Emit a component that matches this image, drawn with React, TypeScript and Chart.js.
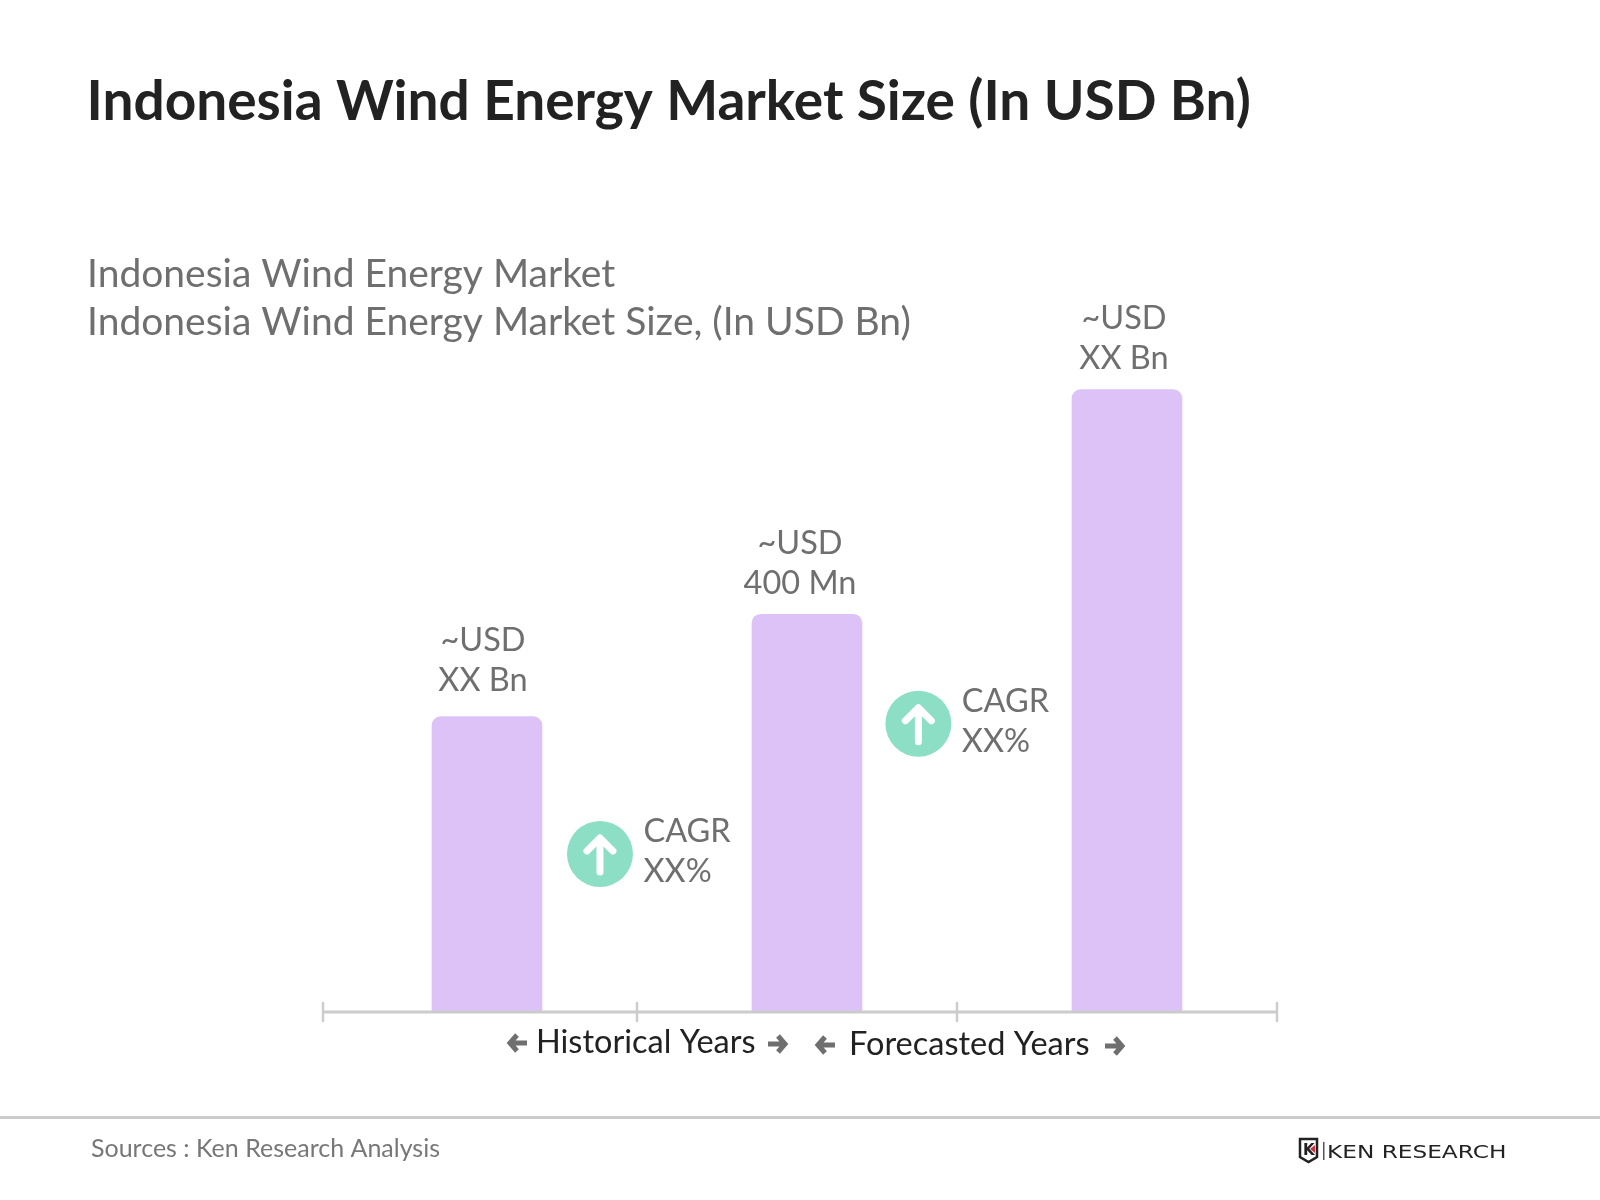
import { useEffect, useRef } from "react";
import { Chart, registerables } from "chart.js";

Chart.register(...registerables);

const categories = ["Historical start", "Base year", "Forecast end"];
const marketSize = [297, 400, 626];
const barLabels = [
  ["~USD", "XX Bn"],
  ["~USD", "400 Mn"],
  ["~USD", "XX Bn"],
];
const barLabelShift = [-4, -7, -3];
const barLabelLift = [26, 20, 21];
const cagrLabels = [
  ["CAGR", "XX%"],
  ["CAGR", "XX%"],
];
// badge position: category index for x, market size units for y
const cagrX = [0.353, 1.348];
const cagrY = [159, 290];

const GREY = "#6f6f6f";
const DARK = "#222222";
const RULE = "#cccccc";

function arrow(ctx: CanvasRenderingContext2D, x: number, y: number, dir: number) {
  ctx.save();
  ctx.strokeStyle = GREY;
  ctx.lineWidth = 5;
  ctx.lineCap = "butt";
  ctx.lineJoin = "miter";
  ctx.beginPath();
  ctx.moveTo(x - dir * 9, y);
  ctx.lineTo(x + dir * 8, y);
  ctx.moveTo(x + dir * 1, y - 8);
  ctx.lineTo(x + dir * 8, y);
  ctx.lineTo(x + dir * 1, y + 8);
  ctx.stroke();
  ctx.restore();
}

function text(
  ctx: CanvasRenderingContext2D,
  str: string,
  x: number,
  y: number,
  font: string,
  color: string,
  align: CanvasTextAlign = "left"
) {
  ctx.font = font;
  ctx.fillStyle = color;
  ctx.textAlign = align;
  ctx.textBaseline = "alphabetic";
  ctx.fillText(str, x, y);
}

const axisRule = {
  id: "axisRule",
  afterDatasetsDraw(chart: any) {
    const ctx = chart.ctx;
    const base = chart.scales.y.getPixelForValue(0);
    ctx.save();
    ctx.strokeStyle = RULE;
    ctx.lineWidth = 3;
    ctx.beginPath();
    ctx.moveTo(323, base);
    ctx.lineTo(1277, base);
    ctx.stroke();
    ctx.lineWidth = 2.5;
    [323, 637, 957, 1277].forEach((x) => {
      ctx.beginPath();
      ctx.moveTo(x, base - 10);
      ctx.lineTo(x, base + 10);
      ctx.stroke();
    });
    ctx.restore();
  },
};

const annotations = {
  id: "annotations",
  afterDraw(chart: any) {
    const ctx = chart.ctx;
    const { x: xScale, y: yScale } = chart.scales;
    const labelFont = "32.5px Lato";
    ctx.save();

    // value labels above the bars
    chart.getDatasetMeta(0).data.forEach((bar: any, i: number) => {
      const cx = bar.x + barLabelShift[i];
      text(ctx, barLabels[i][0], cx, bar.y - barLabelLift[i] - 40, labelFont, GREY, "center");
      text(ctx, barLabels[i][1], cx, bar.y - barLabelLift[i], labelFont, GREY, "center");
    });

    // CAGR badges
    cagrX.forEach((v, i) => {
      const cx = xScale.getPixelForValue(0) + v * (xScale.getPixelForValue(1) - xScale.getPixelForValue(0));
      const cy = yScale.getPixelForValue(cagrY[i]);
      ctx.fillStyle = "#8cdfc4";
      ctx.beginPath();
      ctx.arc(cx, cy, 33, 0, Math.PI * 2);
      ctx.fill();
      ctx.strokeStyle = "#ffffff";
      ctx.lineWidth = 7;
      ctx.lineCap = "round";
      ctx.lineJoin = "round";
      ctx.beginPath();
      ctx.moveTo(cx, cy + 18);
      ctx.lineTo(cx, cy - 15);
      ctx.moveTo(cx - 13, cy - 3);
      ctx.lineTo(cx, cy - 16);
      ctx.lineTo(cx + 13, cy - 3);
      ctx.stroke();
      text(ctx, cagrLabels[i][0], cx + 43.5, cy - 12, labelFont, GREY);
      text(ctx, cagrLabels[i][1], cx + 43.5, cy + 28, labelFont, GREY);
    });

    // headings
    text(ctx, "Indonesia Wind Energy Market Size (In USD Bn)", 86.5, 120, "bold 55px Lato", DARK);
    text(ctx, "Indonesia Wind Energy Market", 87, 287, "39px Lato", GREY);
    text(ctx, "Indonesia Wind Energy Market Size, (In USD Bn)", 87, 335, "39px Lato", GREY);

    // period captions under the axis
    arrow(ctx, 518, 1043, -1);
    text(ctx, "Historical Years", 536, 1053, "32.5px Lato", DARK);
    arrow(ctx, 777, 1044, 1);
    arrow(ctx, 826, 1045, -1);
    text(ctx, "Forecasted Years", 849, 1055, "32.5px Lato", DARK);
    arrow(ctx, 1114, 1046, 1);

    // footer
    ctx.fillStyle = RULE;
    ctx.fillRect(0, 1116, 1600, 3);
    text(ctx, "Sources : Ken Research Analysis", 91, 1157, "25px Lato", "#777777");

    // logo
    ctx.strokeStyle = "#222222";
    ctx.lineWidth = 2.5;
    ctx.lineCap = "butt";
    ctx.lineJoin = "miter";
    ctx.beginPath();
    ctx.moveTo(1300, 1139);
    ctx.lineTo(1317, 1139);
    ctx.lineTo(1317, 1157);
    ctx.lineTo(1308.5, 1162);
    ctx.lineTo(1300, 1157);
    ctx.closePath();
    ctx.stroke();
    text(ctx, "K", 1303, 1155, "bold 15px 'DejaVu Sans'", "#222222");
    ctx.fillStyle = "#c8353f";
    ctx.beginPath();
    ctx.moveTo(1315, 1145);
    ctx.lineTo(1315, 1153);
    ctx.lineTo(1310, 1149);
    ctx.closePath();
    ctx.fill();
    ctx.fillStyle = "#555555";
    ctx.fillRect(1323, 1142, 1.5, 18);
    // the wordmark is a wide face, stretch it to the logo width
    ctx.save();
    ctx.translate(1327, 1158);
    ctx.scale(1.29, 1);
    text(ctx, "KEN RESEARCH", 0, 0, "18px 'DejaVu Sans'", "#222222");
    ctx.restore();

    ctx.restore();
  },
};

export default function App() {
  const canvasRef = useRef<HTMLCanvasElement>(null);

  useEffect(() => {
    document.body.style.margin = "0";
    if (!canvasRef.current) return;

    const chart = new Chart(canvasRef.current, {
      type: "bar",
      data: {
        labels: categories,
        datasets: [
          {
            data: marketSize,
            backgroundColor: "#dcc2f7",
            barThickness: 110,
            borderRadius: { topLeft: 9, topRight: 9, bottomLeft: 0, bottomRight: 0 },
            borderSkipped: false,
          },
        ],
      },
      options: {
        responsive: false,
        animation: false,
        layout: { padding: { left: 327, right: 313, top: 316, bottom: 188 } },
        plugins: { legend: { display: false }, tooltip: { enabled: false } },
        scales: {
          x: { display: false },
          y: { display: false, min: 0, max: 700 },
        },
      },
      plugins: [axisRule, annotations],
    });

    return () => chart.destroy();
  }, []);

  return <canvas ref={canvasRef} width={1600} height={1200} style={{ display: "block" }} />;
}
